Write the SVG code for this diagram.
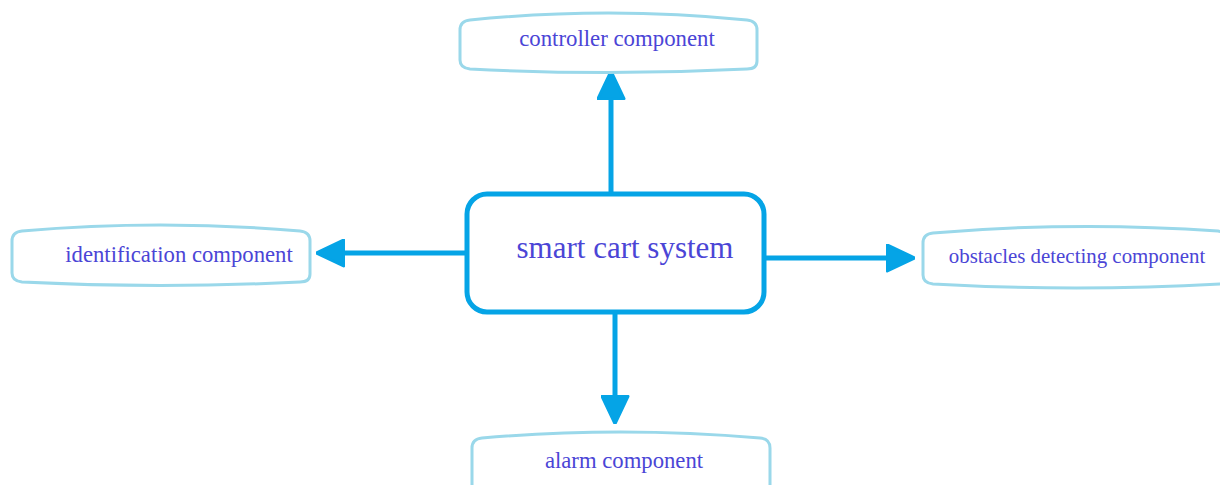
<svg xmlns="http://www.w3.org/2000/svg" width="1220" height="485" viewBox="0 0 1220 485">
<style>
.comp{fill:#ffffff;stroke:#9ad8ea;stroke-width:3}
.lbl{font-family:"Liberation Serif","Times New Roman",serif;fill:#4b45d6}
.main{fill:#ffffff;stroke:#05a4e6;stroke-width:5}
.conn{stroke:#05a4e6;stroke-width:5;fill:none}
</style>
<defs>
<marker id="ah" viewBox="0 0 10 10" refX="9" refY="5" markerWidth="5.8" markerHeight="5.8" orient="auto" markerUnits="strokeWidth">
<path d="M0.5,0.5 L10,5 L0.5,9.5 Z" fill="#05a4e6" stroke="#05a4e6" stroke-width="1" stroke-linejoin="round"/>
</marker>
</defs>
<rect width="1220" height="485" fill="#ffffff"/>
<g id="connectors">
<line class="conn" x1="611" y1="193" x2="611" y2="74" marker-end="url(#ah)"/>
<line class="conn" x1="467" y1="253" x2="319" y2="253" marker-end="url(#ah)"/>
<line class="conn" x1="764" y1="258" x2="912" y2="258" marker-end="url(#ah)"/>
<line class="conn" x1="615" y1="312" x2="615" y2="421" marker-end="url(#ah)"/>
</g>
<g id="controller">
<path class="comp" d="M470,20 Q608,6 747,20 Q757,21 757,30 L757,61 Q757,69 747,69 Q608,76 470,69 Q460,68 460,60 L460,30 Q460,21 470,20 Z"/>
<text class="lbl" x="617" y="46" font-size="22.8" text-anchor="middle">controller component</text>
</g>
<g id="identification">
<path class="comp" d="M22,231 Q160,219 300,231 Q310,232 310,241 L310,274 Q310,282 300,282 Q160,289 22,282 Q12,281 12,273 L12,241 Q12,232 22,231 Z"/>
<text class="lbl" x="179" y="262" font-size="22.7" text-anchor="middle">identification component</text>
</g>
<g id="main">
<rect class="main" x="467" y="194" width="297" height="118" rx="20"/>
<text class="lbl" x="625" y="258" font-size="31" text-anchor="middle">smart cart system</text>
</g>
<g id="obstacles">
<path class="comp" d="M933,233 Q1075,221 1218,231 L1222,232 L1222,284 Q1075,292 933,284 Q923,283 923,275 L923,243 Q923,234 933,233 Z"/>
<text class="lbl" x="1077" y="263" font-size="20.9" text-anchor="middle">obstacles detecting component</text>
</g>
<g id="alarm">
<path class="comp" d="M482,438 Q620,426 760,438 Q770,439 770,448 L770,490 L472,490 L472,448 Q472,439 482,438 Z"/>
<text class="lbl" x="624" y="468" font-size="22.7" text-anchor="middle">alarm component</text>
</g>
</svg>
